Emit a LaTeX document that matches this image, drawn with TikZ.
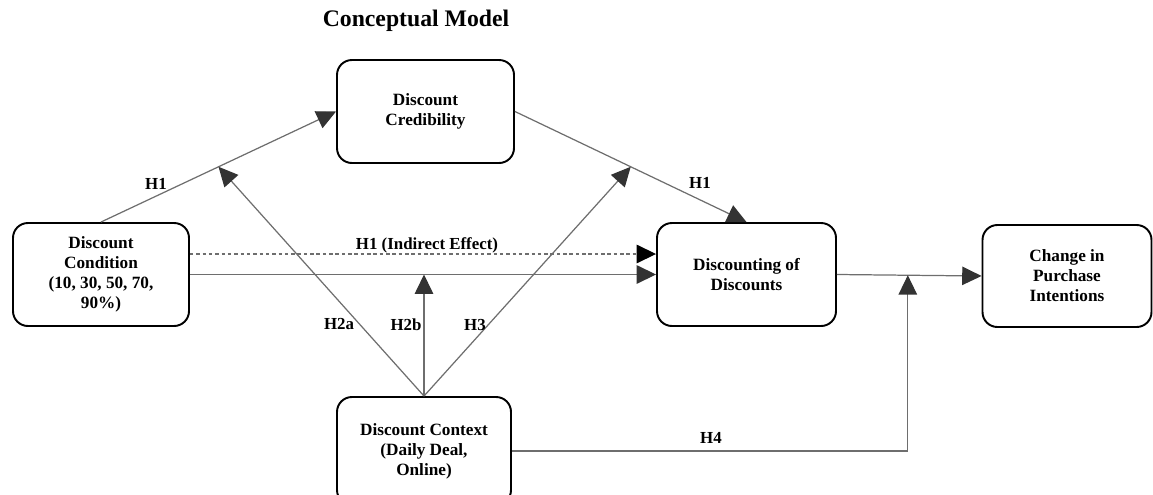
\documentclass[tikz,border=0pt]{standalone}
\usepackage{fontspec}
\setmainfont{Liberation Serif}
\usetikzlibrary{arrows.meta,calc}
\definecolor{linegray}{HTML}{6E6E6E}
\definecolor{tipgray}{HTML}{333333}
\tikzset{
  box/.style={draw=black, line width=1.1pt, rounded corners=8.5pt, align=center,
    font=\fontsize{9.8}{11.4}\selectfont\bfseries, inner sep=0pt},
  conn/.style={draw=linegray, line width=0.7pt,
    -{Triangle[length=11pt,width=10.5pt,color=tipgray]}},
  dashconn/.style={draw=linegray, line width=0.7pt, dash pattern=on 2pt off 1.6pt,
    -{Triangle[length=11pt,width=10.5pt,color=black]}},
  lbl/.style={font=\fontsize{9.6}{11.3}\selectfont\bfseries, inner sep=0pt}
}
\begin{document}
\begin{tikzpicture}[x=0.02cm,y=-0.02cm]
\useasboundingbox (0,0) rectangle (1153,494);
\node[font=\fontsize{13.5}{16}\selectfont\bfseries] (title) at (416,21) {Conceptual Model};
\node[box, minimum width=177*0.02cm, minimum height=103*0.02cm] (cred) at (425.5,111.5) {Discount\\Credibility};
\node[box, minimum width=176*0.02cm, minimum height=103*0.02cm] (cond) at (101,274.5) {Discount\\Condition\\(10, 30, 50, 70,\\90\%)};
\node[box, minimum width=179*0.02cm, minimum height=103*0.02cm] (disc) at (746.5,274.5) {Discounting of\\Discounts};
\node[box, minimum width=169*0.02cm, minimum height=102*0.02cm] (chg) at (1067,276) {Change in\\Purchase\\Intentions};
\node[box, minimum width=174*0.02cm, minimum height=108*0.02cm] (ctx) at (424,451) {Discount Context\\(Daily Deal,\\Online)};

\coordinate (h2a) at ($(cond.north)!0.5!(cred.west)$);
\coordinate (h3) at ($(cred.east)!0.5!(disc.north)$);
\coordinate (h4) at ($(disc.east)!0.49!(chg.west)$);
\coordinate (dA) at ([yshift=20.5*0.02cm]cond.east);
\coordinate (dB) at ([yshift=20.5*0.02cm]disc.west);
\coordinate (h2b) at (ctx.north |- cond.east);

\draw[conn] (cond.north) -- (cred.west);
\draw[conn] (cred.east) -- (disc.north);
\draw[dashconn] (dA) -- (dB);
\draw[conn] (cond.east) -- (disc.west);
\draw[conn] (disc.east) -- (chg.west);
\draw[conn] (ctx.north) -- (h2a);
\draw[conn] (ctx.north) -- (h2b);
\draw[conn] (ctx.north) -- (h3);
\draw[conn] (ctx.east) -| (h4);

\node[lbl] (l1) at (156,184) {H1};
\node[lbl] (l2) at (700,183) {H1};
\node[lbl] (l3) at (427,245) {H1 (Indirect Effect)};
\node[lbl] (l4) at (339,324) {H2a};
\node[lbl] (l5) at (406,325) {H2b};
\node[lbl] (l6) at (475,325) {H3};
\node[lbl] (l7) at (711,438) {H4};
\end{tikzpicture}
\end{document}
